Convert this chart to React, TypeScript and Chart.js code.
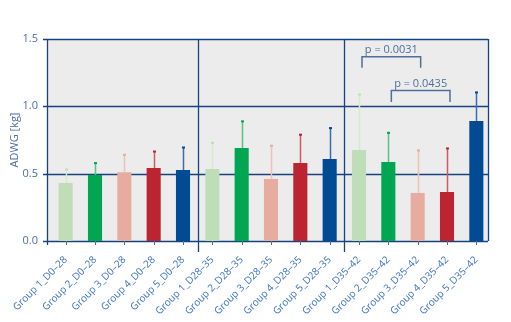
import React, { useEffect, useRef } from "react";
import { Chart, registerables } from "chart.js";
Chart.register(...registerables);

const categories = [
  "Group 1_D0–28", "Group 2_D0–28", "Group 3_D0–28", "Group 4_D0–28", "Group 5_D0–28",
  "Group 1_D28–35", "Group 2_D28–35", "Group 3_D28–35", "Group 4_D28–35", "Group 5_D28–35",
  "Group 1_D35–42", "Group 2_D35–42", "Group 3_D35–42", "Group 4_D35–42", "Group 5_D35–42",
];
const means = [0.431, 0.49, 0.51, 0.542, 0.527, 0.535, 0.691, 0.461, 0.58, 0.609, 0.676, 0.587, 0.357, 0.364, 0.892];
const upper = [0.535, 0.582, 0.644, 0.668, 0.698, 0.733, 0.892, 0.711, 0.793, 0.842, 1.092, 0.807, 0.676, 0.691, 1.107];
const groupColors = ["#bfddb7", "#00a651", "#e5ac9f", "#bd2431", "#004b93"];
const errColors = ["#d6eacf", "#5cbf85", "#edc3b9", "#cf5a63", "#3a6eaa"];
const separatorsAfter = [4, 9];
const brackets = [
  { from: 10, to: 12, top: 1.369, bottom: 1.286, label: "p = 0.0031" },
  { from: 11, to: 13, top: 1.117, bottom: 1.033, label: "p = 0.0435" },
];
const yTicks = [0, 0.5, 1.0, 1.5];

const NAVY = "#16427f";
const FONT = "'Open Sans', 'Noto Sans', sans-serif";

const decor = {
  id: "decor",
  beforeDatasetsDraw(chart: any) {
    const { ctx, chartArea, scales } = chart;
    const x = scales.x;
    const y = scales.y;
    const left = chartArea.left - 4;
    const right = chartArea.right - 3;
    const top = y.getPixelForValue(1.5);
    const bottom = y.getPixelForValue(0);
    ctx.save();
    ctx.fillStyle = "#ececec";
    ctx.fillRect(left, top, right - left, bottom - top);
    ctx.strokeStyle = NAVY;
    ctx.lineWidth = 1.3;
    for (const t of yTicks) {
      const py = Math.round(y.getPixelForValue(t)) + 0.5;
      ctx.beginPath();
      ctx.moveTo(left - 4, py);
      ctx.lineTo(right, py);
      ctx.stroke();
    }
    ctx.beginPath();
    ctx.moveTo(left + 0.5, top);
    ctx.lineTo(left + 0.5, bottom + 4);
    ctx.stroke();
    ctx.beginPath();
    ctx.moveTo(right + 0.5, top);
    ctx.lineTo(right + 0.5, bottom);
    ctx.stroke();
    for (const s of separatorsAfter) {
      const px = Math.round((x.getPixelForValue(s) + x.getPixelForValue(s + 1)) / 2) + 0.5;
      ctx.beginPath();
      ctx.moveTo(px, top);
      ctx.lineTo(px, bottom + 11);
      ctx.stroke();
    }
    ctx.lineWidth = 1;
    ctx.strokeStyle = "#4a6fa5";
    for (let i = 0; i < categories.length; i++) {
      const px = Math.round(x.getPixelForValue(i)) + 0.5;
      ctx.beginPath();
      ctx.moveTo(px, bottom);
      ctx.lineTo(px, bottom + 4);
      ctx.stroke();
    }
    ctx.restore();
  },
  afterDatasetsDraw(chart: any) {
    const { ctx, scales } = chart;
    const x = scales.x;
    const y = scales.y;
    ctx.save();
    for (let i = 0; i < means.length; i++) {
      const px = Math.round(x.getPixelForValue(i)) + 0.5;
      const py0 = y.getPixelForValue(means[i]);
      const py1 = y.getPixelForValue(upper[i]);
      ctx.strokeStyle = errColors[i % 5];
      ctx.lineWidth = 1.5;
      ctx.beginPath();
      ctx.moveTo(px, py0);
      ctx.lineTo(px, py1);
      ctx.stroke();
      ctx.fillStyle = groupColors[i % 5];
      ctx.fillRect(px - 1.5, py1 - 0.5, 3, 2);
    }
    ctx.strokeStyle = "#4d6f9a";
    ctx.lineWidth = 1.5;
    ctx.fillStyle = "#4d6f9a";
    ctx.font = `11px ${FONT}`;
    ctx.textAlign = "center";
    ctx.textBaseline = "alphabetic";
    for (const b of brackets) {
      const x1 = x.getPixelForValue(b.from) + 3;
      const x2 = x.getPixelForValue(b.to) + 3;
      const yt = y.getPixelForValue(b.top);
      const yb = y.getPixelForValue(b.bottom);
      ctx.beginPath();
      ctx.moveTo(x1, yb);
      ctx.lineTo(x1, yt);
      ctx.lineTo(x2, yt);
      ctx.lineTo(x2, yb);
      ctx.stroke();
      ctx.fillText(b.label, (x1 + x2) / 2, yt - 4);
    }
    ctx.restore();
  },
};

export default function App() {
  const ref = useRef<HTMLCanvasElement>(null);
  useEffect(() => {
    document.body.style.margin = "0";
    const chart = new Chart(ref.current!, {
      type: "bar",
      data: {
        labels: categories,
        datasets: [
          {
            data: means,
            backgroundColor: means.map((_, i) => groupColors[i % 5]),
            categoryPercentage: 1,
            barPercentage: 0.48,
          },
        ],
      },
      options: {
        animation: false,
        responsive: true,
        maintainAspectRatio: false,
        layout: { padding: { top: 39, right: 20, left: 0, bottom: 0 } },
        plugins: { legend: { display: false }, tooltip: { enabled: false } },
        scales: {
          x: {
            grid: { display: false },
            border: { display: false },
            ticks: {
              minRotation: 45,
              maxRotation: 45,
              autoSkip: false,
              color: "#3a72c0",
              font: { family: FONT, size: 10 },
              padding: 5,
            },
            afterFit(scale: any) {
              scale.height = 81;
            },
          },
          y: {
            min: 0,
            max: 1.5,
            grid: { display: false },
            border: { display: false },
            ticks: {
              stepSize: 0.5,
              color: "#4a70a8",
              font: { family: FONT, size: 11 },
              padding: 5,
              callback: (v: any) => Number(v).toFixed(1),
            },
            title: {
              display: true,
              text: "ADWG [kg]",
              color: "#4a6fa5",
              font: { family: FONT, size: 11 },
              padding: { top: 8, bottom: 0 },
            },
            afterFit(scale: any) {
              scale.width = 51;
            },
          },
        },
      },
      plugins: [decor],
    });
    return () => chart.destroy();
  }, []);
  return (
    <div style={{ position: "absolute", left: 0, top: 0, width: 511, height: 322 }}>
      <canvas ref={ref} />
    </div>
  );
}
